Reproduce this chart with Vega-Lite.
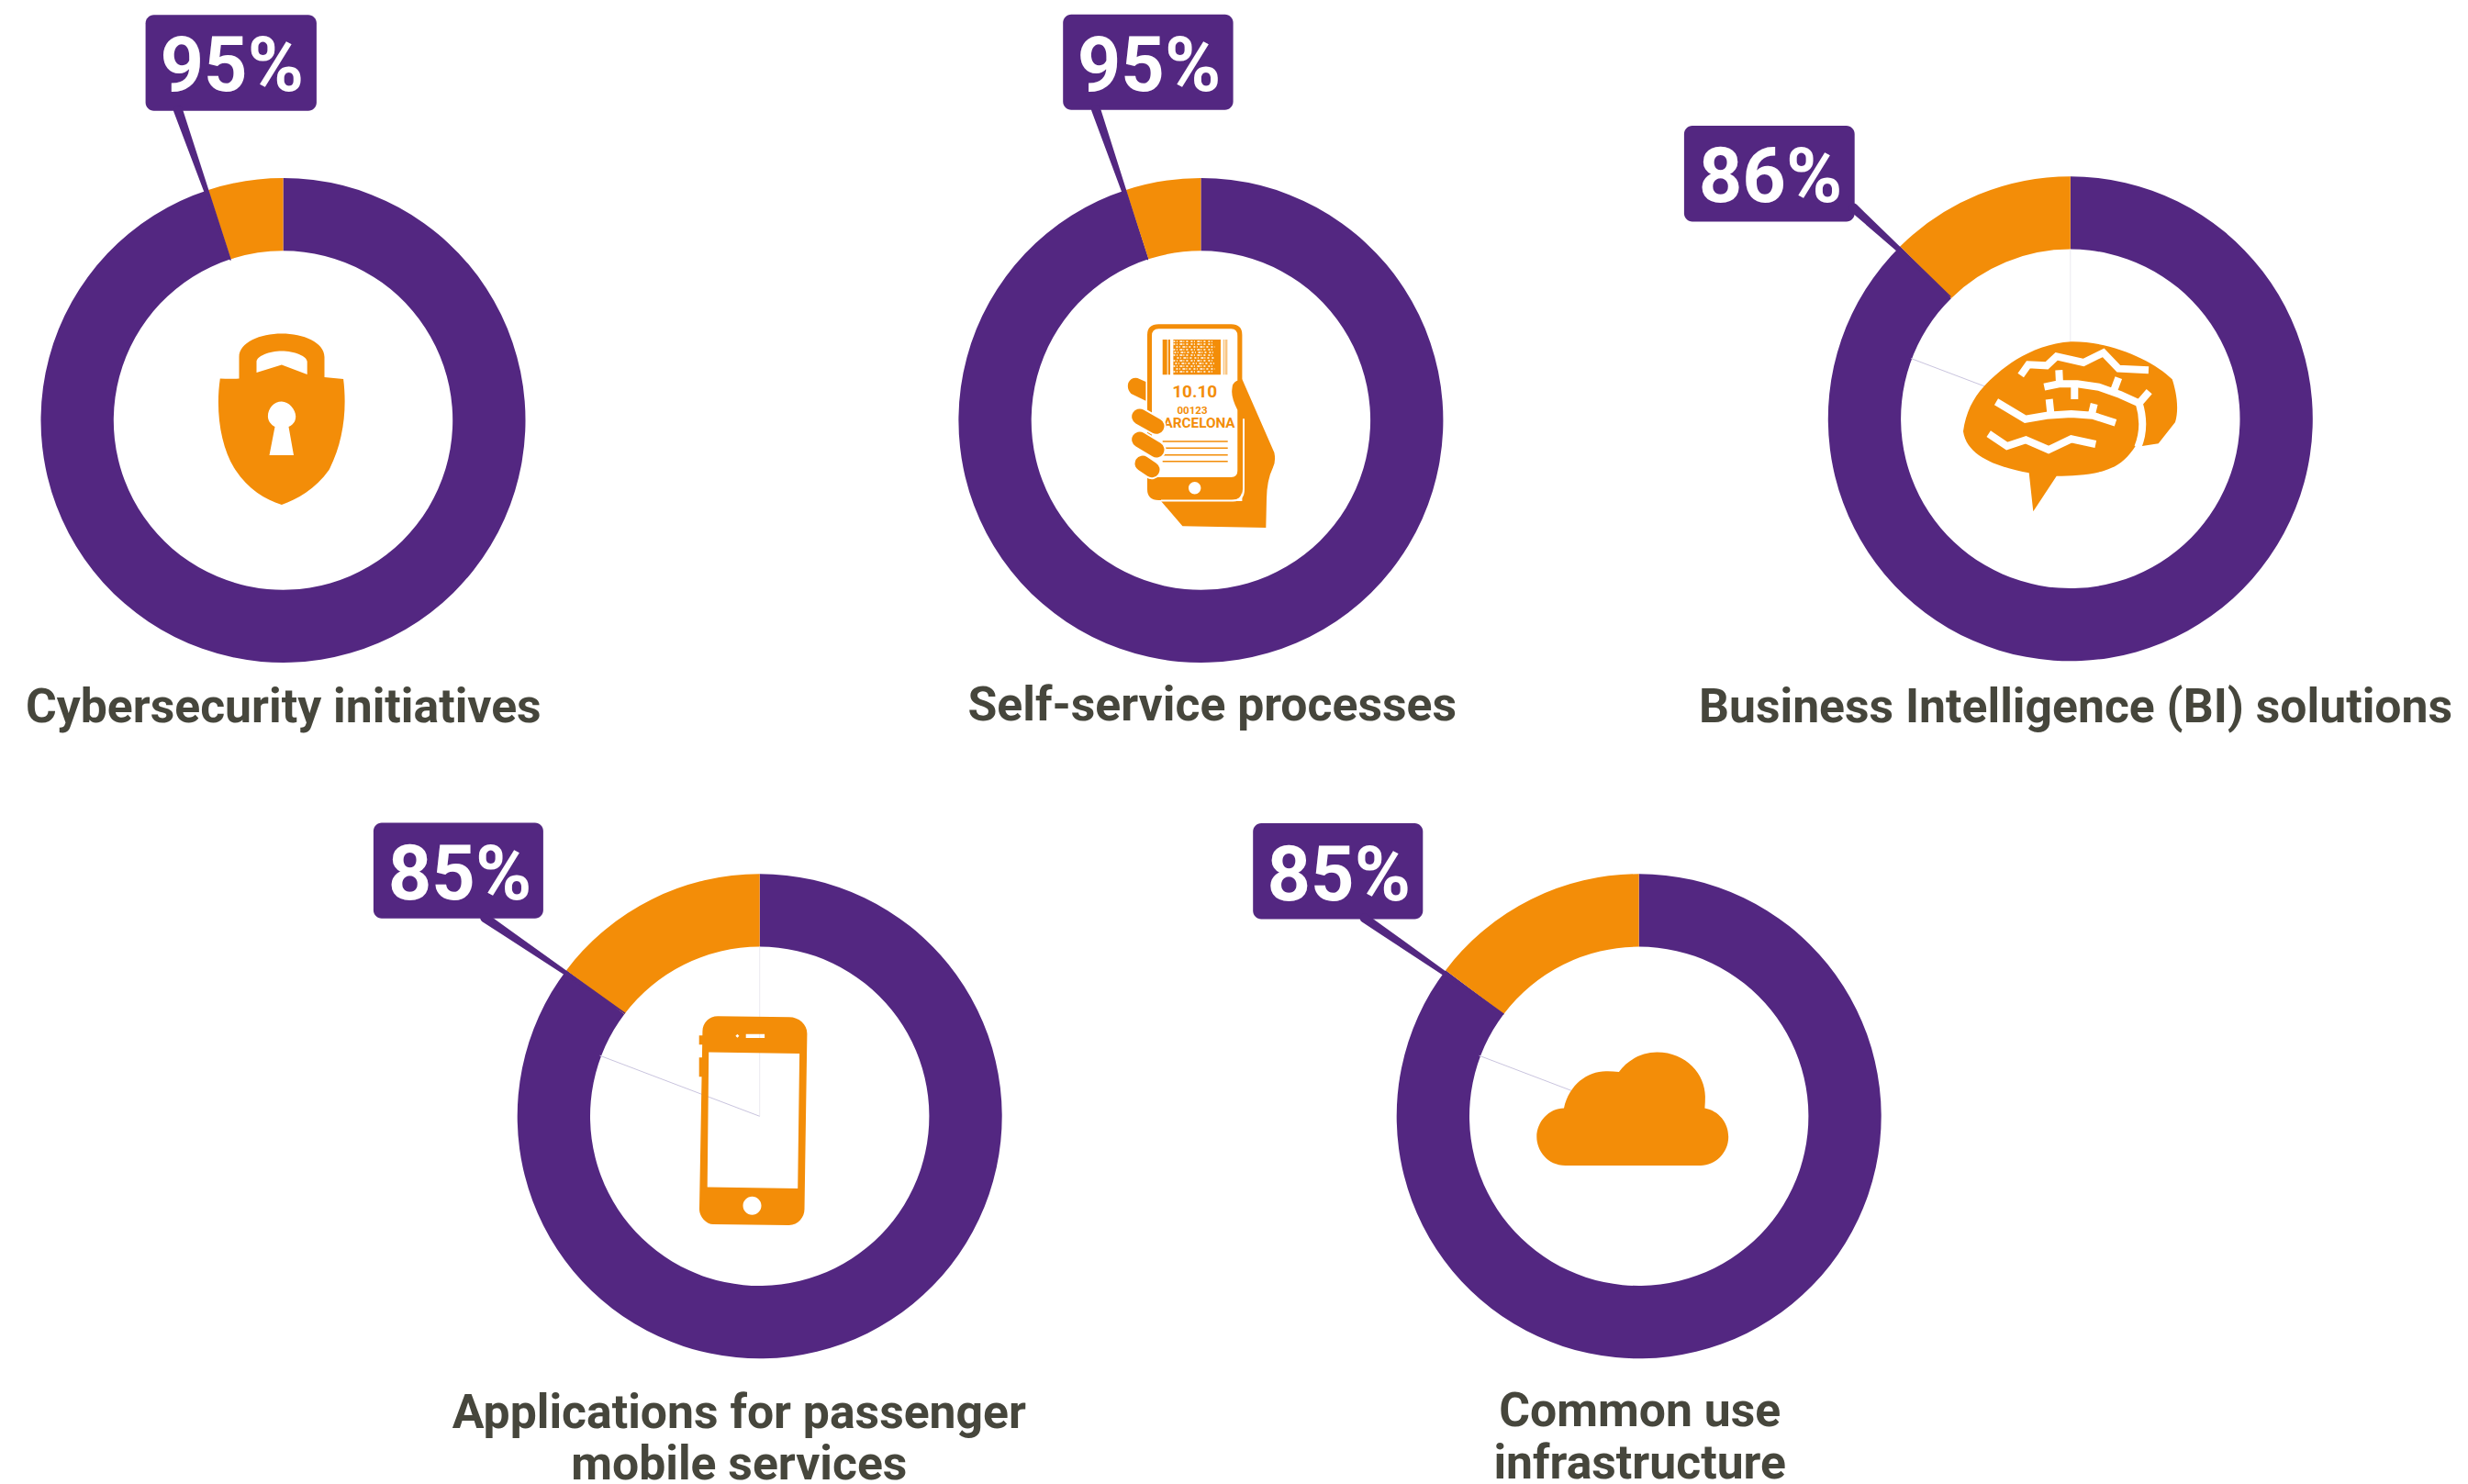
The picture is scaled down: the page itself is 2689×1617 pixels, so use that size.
{"$schema":"https://vega.github.io/schema/vega-lite/v6.json","autosize":"none","width":2689,"height":1617,"padding":0,"background":"#ffffff","config":{"view":{"stroke":null}},
"datasets":{"centers":[{"item":"lock","x":308.5,"y":458},{"item":"ticket","x":1308.4,"y":458},{"item":"brain","x":2255.8,"y":456.3},{"item":"phone","x":827.7,"y":1216.3},{"item":"cloud","x":1785.7,"y":1216.3}]},
"encoding":{"x":{"field":"x","type":"quantitative","scale":{"domain":[0,2689],"nice":false,"zero":false},"axis":null},"y":{"field":"y","type":"quantitative","scale":{"domain":[0,1617],"nice":false,"zero":false,"reverse":true},"axis":null}},
"layer":[
{"data":{"values":[
{"item":"Cybersecurity initiatives","x":308.5,"y":458,"part":"yes","start":0,"end":95},{"item":"Cybersecurity initiatives","x":308.5,"y":458,"part":"no","start":95,"end":100},
{"item":"Self-service processes","x":1308.4,"y":458,"part":"yes","start":0,"end":95},{"item":"Self-service processes","x":1308.4,"y":458,"part":"no","start":95,"end":100},
{"item":"Business Intelligence (BI) solutions","x":2255.8,"y":456.3,"part":"yes","start":0,"end":87.6},{"item":"Business Intelligence (BI) solutions","x":2255.8,"y":456.3,"part":"no","start":87.6,"end":100},
{"item":"Applications for passenger mobile services","x":827.7,"y":1216.3,"part":"yes","start":0,"end":85.3},{"item":"Applications for passenger mobile services","x":827.7,"y":1216.3,"part":"no","start":85.3,"end":100},
{"item":"Common use infrastructure","x":1785.7,"y":1216.3,"part":"yes","start":0,"end":85.3},{"item":"Common use infrastructure","x":1785.7,"y":1216.3,"part":"no","start":85.3,"end":100}]},
"mark":{"type":"arc","outerRadius":264,"innerRadius":184.7},
"encoding":{"theta":{"field":"start","type":"quantitative","stack":null,"scale":{"domain":[0,100],"range":[0,6.283185307]}},"theta2":{"field":"end"},"color":{"field":"part","type":"nominal","scale":{"domain":["yes","no"],"range":["#532781","#f38d08"]},"legend":null}}},
{"data":{"values":[
{"x":2255.8,"y":271.6,"x2":2255.8,"y2":456.3},{"x":827.7,"y":1031.6,"x2":827.7,"y2":1216.3}]},
"mark":{"type":"rule","strokeWidth":1,"color":"#eceaf0"},
"encoding":{"x2":{"field":"x2"},"y2":{"field":"y2"}}},
{"data":{"values":[
{"x":2082.2,"y":390.6,"x2":2255.8,"y2":456.3},{"x":653.6,"y":1150.2,"x2":827.7,"y2":1216.3},
{"x":1611.6,"y":1150.2,"x2":1785.7,"y2":1216.3}]},
"mark":{"type":"rule","strokeWidth":1,"color":"#c9c4de"},
"encoding":{"x2":{"field":"x2"},"y2":{"field":"y2"}}},
{"data":{"values":[
{"item":"a","x":158.6,"x2":344.9,"y":16.2,"y2":120.8},{"item":"b","x":1158.2,"x2":1343.6,"y":15.7,"y2":119.8},{"item":"c","x":1834.9,"x2":2020.7,"y":136.9,"y2":241.4},{"item":"d","x":406.9,"x2":591.9,"y":896.4,"y2":1000.8},{"item":"e","x":1365.2,"x2":1550.3,"y":896.9,"y2":1001.4}]},
"mark":{"type":"rect","cornerRadius":9,"color":"#532781"},"encoding":{"x2":{"field":"x2"},"y2":{"field":"y2"}}},
{"data":{"values":[
{"item":"a","seq":0,"x":194,"y":120,"w":10},{"item":"a","seq":1,"x":251.1,"y":283,"w":1.5},
{"item":"b","seq":0,"x":1194,"y":119,"w":10},{"item":"b","seq":1,"x":1250.3,"y":282.6,"w":1.5},
{"item":"c","seq":0,"x":2019.5,"y":226.5,"w":10},{"item":"c","seq":1,"x":2124.8,"y":323,"w":1.5},
{"item":"d","seq":0,"x":528.2,"y":1000,"w":10},{"item":"d","seq":1,"x":680.5,"y":1103.9,"w":1.5},
{"item":"e","seq":0,"x":1486.7,"y":1000.5,"w":10},{"item":"e","seq":1,"x":1638,"y":1104.8,"w":1.5}]},
"mark":{"type":"trail","color":"#532781"},"encoding":{"detail":{"field":"item"},"order":{"field":"seq","type":"quantitative"},"size":{"field":"w","type":"quantitative","scale":null}}},
{"data":{"values":[{"t":"95%","x":252.7,"y":99.4},{"t":"95%","x":1252,"y":99},{"t":"86%","x":1929,"y":220.4},{"t":"85%","x":501,"y":980},{"t":"85%","x":1458.8,"y":981}]},
"mark":{"type":"text","font":"Roboto","fontWeight":"bold","fontSize":83,"color":"#ffffff","align":"center","baseline":"alphabetic"},"encoding":{"text":{"field":"t"}}},
{"data":{"values":[{"t":"Cybersecurity initiatives","x":308.8,"y":787},{"t":"Self-service processes","x":1320.7,"y":784.5},{"t":"Business Intelligence (BI) solutions","x":2261.5,"y":787.4},{"t":"Applications for passenger","x":805.3,"y":1555.8},{"t":"mobile services","x":805.3,"y":1612},{"t":"Common use","x":1786.7,"y":1554.3},{"t":"infrastructure","x":1786.7,"y":1610.7}]},
"mark":{"type":"text","font":"Roboto","fontWeight":"bold","fontSize":51.7,"color":"#46463c","align":"center","baseline":"alphabetic"},"encoding":{"text":{"field":"t"}}},
{"data":{"name":"centers"},"transform":[{"filter":"datum.item==='lock'"}],
"mark":{"type":"point","filled":true,"color":"#f38d08","opacity":1,"size":4,"strokeWidth":0,"shape":"M-48,-45.5 L-48,-69 C-48,-85 -25,-94.5 -1.6,-94.5 C22,-94.5 45,-85 45,-69 L45,-47 Q55,-46 65.6,-45 C70,-10 65,25 50,54 C35,75 15,86 -1.6,92 C-20,86 -38,75 -52,54 C-68,30 -74,-10 -68.7,-45.6 Q-58,-45 -48,-45.5 Z M-29,-52 L-1.6,-60.4 L26.2,-50 L26.2,-64 C26.2,-70 12,-75.6 -1.6,-75.6 C-15,-75.6 -29,-70 -29,-64 Z M-15,38 L11.5,38 L6,7 C12,4 13.7,0 13.7,-4.6 C13.7,-12 6,-20.6 -1.6,-20.6 C-10,-20.6 -16.6,-13 -16.6,-4.6 C-16.6,0 -14,4 -9,7 Z"}},
{"data":{"name":"centers"},"transform":[{"filter":"datum.item==='cloud'"}],
"mark":{"type":"point","filled":true,"color":"#f38d08","opacity":1,"size":4,"strokeWidth":0,"shape":"M-80,53.6 C-100,53.6 -111.4,37 -111.4,22.4 C-111.4,6 -98,-8.8 -81.7,-8.8 C-76,-35 -55,-50 -34,-49 Q-28,-49 -21.8,-48.4 C-12,-62 4,-69.7 19.6,-69.7 C52,-69.7 72.2,-45 72.2,-21.5 Q72.2,-15 71.7,-8.8 C87,-6 97.5,7 97.5,22.4 C97.5,40 83,53.6 67.3,53.6 Z"}},
{"data":{"name":"centers"},"transform":[{"filter":"datum.item==='phone'"}],
"mark":{"type":"point","filled":true,"color":"#f38d08","opacity":1,"size":4,"strokeWidth":0,"shape":"M-45.7,-109 L32,-108 C43,-108 51.7,-100 51.7,-90 L48.8,101.3 C48.8,110 42,118.8 32,118.8 L-50.6,117.8 C-58,117.8 -65.7,110 -65.7,101.3 L-62.3,-92.4 C-62.3,-102 -55,-109 -45.7,-109 Z M-55.5,-69.7 L-57,77.2 L41.5,78.6 L43.4,-68.3 Z M-18.2,97.5 C-18.2,103 -13.7,107.5 -8.2,107.5 C-2.7,107.5 1.8,103 1.8,97.5 C1.8,92 -2.7,87.5 -8.2,87.5 C-13.7,87.5 -18.2,92 -18.2,97.5 Z M-15,-89.5 L-15,-85.3 L5.4,-85.3 L5.4,-89.5 Z M-26.3,-87.6 L-24.3,-85.6 L-22.3,-87.6 L-24.3,-89.6 Z M-66,-88 L-62,-88 L-62,-78 L-66,-78 Z M-66,-64 L-62,-64 L-62,-43 L-66,-43 Z"}},
{"data":{"name":"centers"},"transform":[{"filter":"datum.item==='brain'"}],
"mark":{"type":"point","filled":true,"color":"#f38d08","opacity":1,"size":4,"strokeWidth":0,"shape":"M-116.8,13.7 C-114.1,-6.3 -105.8,-23 -94.1,-35.3 C-79.1,-51.3 -45.8,-81.3 0.9,-84 C44.2,-84.6 90.9,-63 110.9,-43 C114.2,-33 119.2,-13 114.2,3.7 L95.9,27 L78.2,29.7 L70.9,29.7 C64.2,40.4 54.2,50.4 44.2,53.7 C30.9,60.4 4.2,62.4 -15.1,62.4 L-40.5,101 L-45.1,59 C-72.5,53.7 -112.5,43.7 -116.8,13.7 Z"}},
{"data":{"name":"centers"},"transform":[{"filter":"datum.item==='brain'"}],
"mark":{"type":"point","filled":false,"fill":null,"stroke":"#ffffff","opacity":1,"size":4,"strokeWidth":8,"shape":"M-54.1,-47.3 L-45.8,-59 L-25.8,-58 L-15.1,-68 L14.2,-61.3 L35.9,-72 L52.5,-54.6 L85.2,-53 M-28.5,-34.6 L-12.5,-38 L7.5,-38 L30.9,-34.6 L54.2,-26.3 L74.9,-17 L85.9,-29.6 M-12.5,-53 L-11.8,-38 M4.5,-36.3 L4.5,-21.3 M52.5,-44.6 L47.5,-31.3 M-80.8,-18.6 L-49.1,0.4 L-25.8,-3.6 L0.9,-5.3 L24.2,-3.6 L49.2,4.4 M-23.1,-21.3 L-21.5,-6.3 M25.9,-16.3 L23.5,-6.3 M-89.1,16.4 L-69.1,29.7 L-48.5,23 L-23.8,33.7 L0.9,22 L27.5,27.7 M74.9,-17 C80.2,0.4 79.2,17 73.5,31"}},
{"data":{"name":"centers"},"transform":[{"filter":"datum.item==='ticket'"}],
"mark":{"type":"point","filled":true,"color":"#f38d08","opacity":1,"size":4,"strokeWidth":0,"shape":"M-46,-104.7 L33,-104.7 Q45,-104.7 45,-93 L45,75 Q45,87 33,87 L-46,87 Q-58.4,87 -58.4,75 L-58.4,-93 Q-58.4,-104.7 -46,-104.7 Z M-46,-99.7 Q-53.4,-99.7 -53.4,-92 L-53.4,62 L33,62 Q39.9,62 39.9,55 L39.9,-92 Q39.9,-99.7 33,-99.7 Z M-13.4,73.7 C-13.4,77.4 -10.4,80.4 -6.7,80.4 C-3,80.4 0,77.4 0,73.7 C0,70 -3,67 -6.7,67 C-10.4,67 -13.4,70 -13.4,73.7 Z M39,-43 L45,-44.7 L80,35.3 Q82,45 78.3,52 Q72,65 71.6,85.3 L70.9,117 L-20,115.3 L-43.4,88 L45,88 L45,-11.3 L39.9,-11.3 Q33,-25 33.9,-33 Q34,-41 39,-43 Z M-60,-42 L-60,-21.3 L-76,-29 Q-81,-34 -79,-41 Q-76,-47 -69,-46 Z M-41.7,-88 L-36.7,-88 L-36.7,-49.7 L-41.7,-49.7 Z M-35.7,-88 L-33.4,-88 L-33.4,-49.7 L-35.7,-49.7 Z M-30,-88 L21.6,-88 L21.6,-49.7 L-30,-49.7 Z M-41.7,22.3 L29.3,22.3 L29.3,23.7 L-41.7,23.7 Z M-41.7,29.6 L29.3,29.6 L29.3,31 L-41.7,31 Z M-41.7,37 L29.3,37 L29.3,38.4 L-41.7,38.4 Z M-41.7,44 L29.3,44 L29.3,45.4 L-41.7,45.4 Z"}},
{"data":{"name":"centers"},"transform":[{"filter":"datum.item==='ticket'"}],
"mark":{"type":"point","filled":true,"color":"#f38d08","opacity":0.5,"size":4,"strokeWidth":0,"shape":"M24.3,-88 L26,-88 L26,-49.7 L24.3,-49.7 Z M26.6,-88 L29,-88 L29,-49.7 L26.6,-49.7 Z"}},
{"data":{"name":"centers"},"transform":[{"filter":"datum.item==='ticket'"}],
"mark":{"type":"point","filled":false,"fill":null,"stroke":"#ffffff","opacity":1,"size":4,"strokeWidth":1.6,"strokeDash":[2,1.5,1,2.5,3,1,1,2,2,3],"shape":"M-30,-86 L15,-86 M-30,-83 L15,-83 M-27,-80 L15,-80 M-30,-77 L15,-77 M-29,-74 L15,-74 M-30,-71 L15,-71 M-26,-68 L15,-68 M-30,-65 L15,-65 M-28,-62 L15,-62 M-30,-59 L15,-59 M-27,-56 L15,-56 M-30,-53 L15,-53"}},
{"data":{"name":"centers"},"transform":[{"filter":"datum.item==='ticket'"}],
"mark":{"type":"point","filled":false,"fill":null,"stroke":"#ffffff","opacity":1,"size":4,"strokeWidth":2,"shape":"M46.6,-1.7 L46.6,75 Q46.6,87.5 34.9,87.5 L-43.4,87.5"}},
{"data":{"values":[{"t":"10.10","x":1301.7,"y":432.7,"s":"big"},{"t":"00123","x":1299,"y":450.7,"s":"small"},{"t":"BARCELONA","x":1301.7,"y":465.7,"s":"mid"}]},
"mark":{"type":"text","font":"Roboto","fontWeight":"bold","color":"#f38d08","align":"center","baseline":"alphabetic"},"encoding":{"text":{"field":"t"},"size":{"field":"s","type":"nominal","scale":{"domain":["big","mid","small"],"range":[19,11.5,10.5]},"legend":null}}},
{"data":{"name":"centers"},"transform":[{"filter":"datum.item==='ticket'"}],
"mark":{"type":"point","filled":false,"fill":null,"stroke":"#ffffff","opacity":1,"size":4,"strokeWidth":21,"strokeCap":"round","shape":"M-66.7,-4 L-48.4,6.3 M-66.7,21 L-48.4,32 M-63.4,47 L-53.4,53.7"}},
{"data":{"name":"centers"},"transform":[{"filter":"datum.item==='ticket'"}],
"mark":{"type":"point","filled":false,"fill":null,"stroke":"#f38d08","opacity":1,"size":4,"strokeWidth":17,"strokeCap":"round","shape":"M-66.7,-4 L-48.4,6.3 M-66.7,21 L-48.4,32 M-63.4,47 L-53.4,53.7"}}
]}
